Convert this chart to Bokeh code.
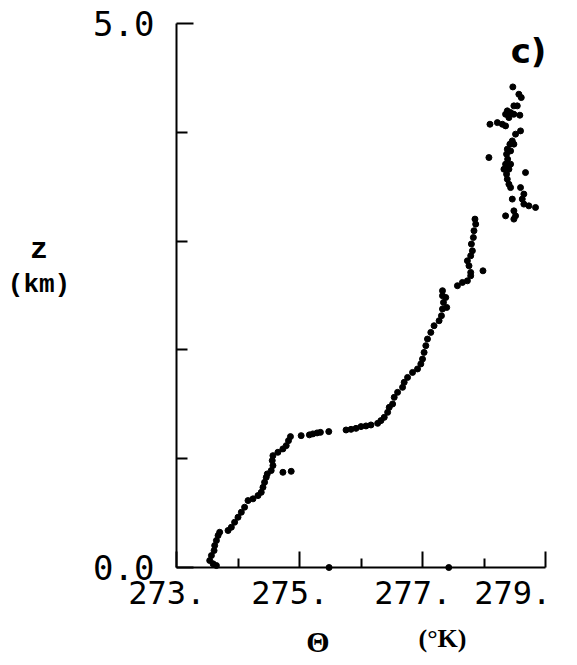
from bokeh.plotting import figure
from bokeh.models import FixedTicker, Label, Range1d
from bokeh.embed import file_html
from bokeh.resources import INLINE

# potential temperature (K) and height (km)
theta = [
    277.427, 275.481, 273.649,
    273.595, 273.540, 273.568, 273.611, 273.621, 273.649, 273.676, 273.702,
    273.838, 273.892, 273.945, 274.000, 274.054, 274.107, 274.163, 274.244,
    274.325, 274.378, 274.406, 274.432, 274.459, 274.476, 274.540, 274.568,
    274.557, 274.568, 274.649, 274.730, 274.784, 274.821, 274.853,
    274.730, 274.865,
    275.027, 275.161, 275.217, 275.286, 275.340, 275.476, 275.757, 275.838,
    275.919, 276.000, 276.081, 276.162, 276.271, 276.324, 276.378, 276.433,
    276.459, 276.514,
    276.540, 276.595, 276.676, 276.702, 276.757, 276.838, 276.919, 276.973,
    277.000, 277.026, 277.054, 277.081, 277.135, 277.188, 277.270, 277.308,
    277.325, 277.341, 277.325, 277.325, 277.378, 277.394,
    277.568, 277.649, 277.730, 277.784, 277.784, 277.756, 277.730, 277.784,
    277.811, 277.795, 277.827, 277.837, 277.865, 277.853, 277.983,
    278.469, 278.567, 278.606, 278.486, 278.541, 278.379, 278.432, 278.351,
    278.486, 278.583, 278.405, 278.097, 278.217, 278.298, 278.351, 278.594,
    278.513, 278.460, 278.421, 278.486, 278.379, 278.432, 278.367, 278.080,
    278.384, 278.351, 278.432, 278.324, 278.405, 278.675, 278.367, 278.379,
    278.405, 278.432, 278.594, 278.648, 278.460, 278.622, 278.648, 278.729,
    278.838, 278.486, 278.513, 278.351, 278.486,
]
z_km = [
    0.000, 0.000, 0.018,
    0.034, 0.064, 0.110, 0.156, 0.202, 0.248, 0.294, 0.324,
    0.340, 0.370, 0.416, 0.462, 0.508, 0.554, 0.615, 0.631,
    0.661, 0.691, 0.737, 0.783, 0.829, 0.860, 0.891, 0.937,
    0.983, 1.028, 1.059, 1.090, 1.120, 1.166, 1.203,
    0.875, 0.884,
    1.212, 1.219, 1.228, 1.237, 1.242, 1.249, 1.264, 1.270,
    1.279, 1.295, 1.301, 1.310, 1.325, 1.350, 1.380, 1.426,
    1.472, 1.503,
    1.564, 1.610, 1.656, 1.702, 1.747, 1.793, 1.825, 1.871,
    1.916, 1.977, 2.039, 2.100, 2.161, 2.222, 2.268, 2.314,
    2.376, 2.436, 2.498, 2.544, 2.482, 2.390,
    2.590, 2.620, 2.635, 2.681, 2.712, 2.773, 2.819, 2.865,
    2.911, 2.973, 3.033, 3.095, 3.156, 3.202, 2.727,
    4.417, 4.350, 4.319, 4.243, 4.243, 4.197, 4.181, 4.166,
    4.166, 4.157, 4.135, 4.074, 4.089, 4.074, 4.059, 4.013,
    3.983, 3.921, 3.891, 3.891, 3.845, 3.829, 3.799, 3.768,
    3.753, 3.707, 3.707, 3.661, 3.661, 3.630, 3.615, 3.569,
    3.523, 3.492, 3.492, 3.432, 3.386, 3.386, 3.340, 3.324,
    3.309, 3.278, 3.232, 3.232, 3.202,
]

x_lo, x_hi = 273, 279
y_lo, y_hi = 0, 5
x_ticks = [273, 275, 277, 279]
x_minor_ticks = [274, 276, 278]
x_tick_labels = ["273.", "275.", "277.", "279."]
y_ticks = [0, 5]
y_minor_ticks = [1, 2, 3, 4]
y_tick_labels = ["0.0", "5.0"]

# layout (pixels): the frame fills the whole canvas, axes are pinned inside
W, H = 570, 657
AX_LEFT, AX_RIGHT, AX_TOP, AX_BOTTOM = 176, 545, 23, 567
sx = (AX_RIGHT - AX_LEFT) / (x_hi - x_lo)
sy = (AX_BOTTOM - AX_TOP) / (y_hi - y_lo)
x0 = x_lo - AX_LEFT / sx
x1 = x0 + W / sx
y1 = y_hi + AX_TOP / sy
y0 = y1 - H / sy

def dx(px):
    return x0 + px / sx

def dy(py):
    return y1 - py / sy

p = figure(width=W, height=H, x_range=Range1d(x0, x1), y_range=Range1d(y0, y1),
           output_backend="svg", toolbar_location=None,
           min_border_left=0, min_border_right=0,
           min_border_top=0, min_border_bottom=0)
p.outline_line_color = None
p.grid.visible = False
p.background_fill_color = "white"
p.border_fill_color = "white"

NB = "\u00a0"
xa = p.xaxis[0]
xa.fixed_location = y_lo
xa.bounds = (x_lo, x_hi)
xa.ticker = FixedTicker(ticks=x_ticks, minor_ticks=x_minor_ticks)
xa.major_label_overrides = {t: lab + NB for t, lab in zip(x_ticks, x_tick_labels)}
xa.major_label_text_font = "DejaVu Sans Mono"
xa.major_label_text_font_size = "32px"
xa.major_label_text_color = "black"
xa.major_label_standoff = 6
xa.axis_line_width = 2
xa.axis_line_color = "black"
xa.major_tick_in = 16
xa.major_tick_out = 0
xa.minor_tick_in = 9
xa.minor_tick_out = 0
xa.major_tick_line_width = 2
xa.minor_tick_line_width = 2

ya = p.yaxis[0]
ya.fixed_location = x_lo
ya.bounds = (y_lo, y_hi)
ya.ticker = FixedTicker(ticks=y_ticks, minor_ticks=y_minor_ticks)
ya.major_label_overrides = {t: lab for t, lab in zip(y_ticks, y_tick_labels)}
ya.major_label_text_font = "DejaVu Sans Mono"
ya.major_label_text_font_size = "34px"
ya.major_label_text_color = "black"
ya.major_label_standoff = 22
ya.axis_line_width = 2
ya.axis_line_color = "black"
ya.major_tick_in = 17
ya.major_tick_out = 0
ya.minor_tick_in = 11
ya.minor_tick_out = 0
ya.major_tick_line_width = 2
ya.minor_tick_line_width = 2

p.scatter(theta, z_km, size=6, marker="circle", color="black")

def lab(px, py, text, font, size, style="bold"):
    p.add_layout(Label(x=dx(px), y=dy(py), text=text, text_font=font,
                       text_font_size=size, text_font_style=style,
                       text_align="center", text_baseline="alphabetic",
                       text_color="black"))

lab(38.5, 249, "z", "Liberation Mono", "30px")
lab(38.5, 284, "(km)", "Liberation Mono", "26px")
lab(317.5, 641, "\u0398", "Liberation Serif", "30px")
lab(442, 638, "(\u00b0K)", "Liberation Serif", "26px")
lab(528, 50, "c)", "DejaVu Sans", "34px")

open("out.html", "w").write(file_html(p, INLINE))
